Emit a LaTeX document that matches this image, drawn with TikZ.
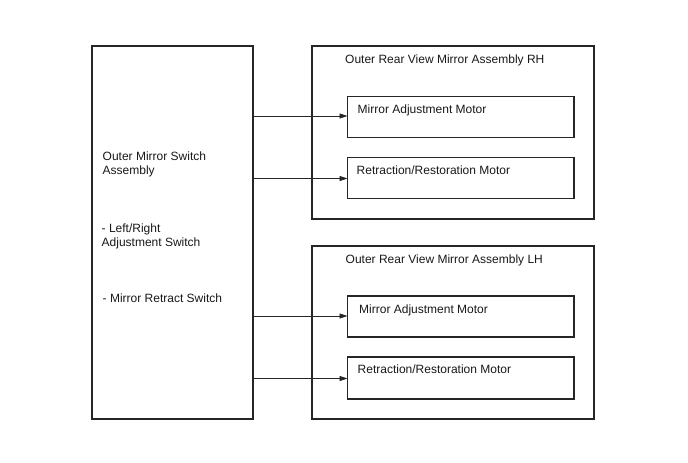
\documentclass[tikz,border=0pt]{standalone}
\usepackage{fontspec}
\setmainfont{Liberation Sans}
\usetikzlibrary{arrows.meta}
\begin{document}
\begin{tikzpicture}[x=1pt,y=-1pt,
  box/.style={draw=black!85,line width=1.1pt,rectangle,inner sep=0pt,outer sep=0pt,anchor=north west},
  lbl/.style={anchor=base west,inner sep=0pt,font=\fontsize{12pt}{14pt}\selectfont,text=black!90},
  conn/.style={draw=black!85,line width=0.7pt,-{Triangle[length=8pt,width=5pt]}}]
\useasboundingbox (0,0) rectangle (688,463);
\fill[white] (0,0) rectangle (688,463);
% boxes
\node[box,minimum width=161pt,minimum height=373pt] (sw) at (92,46) {};
\node[box,minimum width=282pt,minimum height=173pt] (rh) at (312,46) {};
\node[box,minimum width=226.5pt,minimum height=41pt] (m1) at (347.5,96.8) {};
\node[box,minimum width=226.5pt,minimum height=41pt] (r1) at (347.5,157.8) {};
\node[box,minimum width=282pt,minimum height=173pt] (lh) at (312,246) {};
\node[box,minimum width=226.5pt,minimum height=41pt] (m2) at (347.5,296) {};
\node[box,minimum width=226.5pt,minimum height=42pt] (r2) at (347.5,357) {};
% labels
\node[lbl] (t1) at (102.5,160) {Outer Mirror Switch};
\node[lbl] (t2) at (102.5,174) {Assembly};
\node[lbl] (t3) at (101.5,232) {- Left/Right};
\node[lbl] (t4) at (101.5,246) {Adjustment Switch};
\node[lbl] (t5) at (102.5,302) {- Mirror Retract Switch};
\node[lbl] (trh) at (345,63) {Outer Rear View Mirror Assembly RH};
\node[lbl] (tm1) at (357.5,113.5) {Mirror Adjustment Motor};
\node[lbl] (tr1) at (356.5,174) {Retraction/Restoration Motor};
\node[lbl] (tlh) at (345.5,263) {Outer Rear View Mirror Assembly LH};
\node[lbl] (tm2) at (359,313.5) {Mirror Adjustment Motor};
\node[lbl] (tr2) at (357.5,373) {Retraction/Restoration Motor};
% connectors
\coordinate (a1) at (253,116);
\coordinate (a2) at (253,178.5);
\coordinate (a3) at (253,316);
\coordinate (a4) at (253,378.5);
\draw[conn] (sw.east |- a1) -- (m1.west |- a1);
\draw[conn] (sw.east |- a2) -- (r1.west |- a2);
\draw[conn] (sw.east |- a3) -- (m2.west |- a3);
\draw[conn] (sw.east |- a4) -- (r2.west |- a4);
\end{tikzpicture}
\end{document}
